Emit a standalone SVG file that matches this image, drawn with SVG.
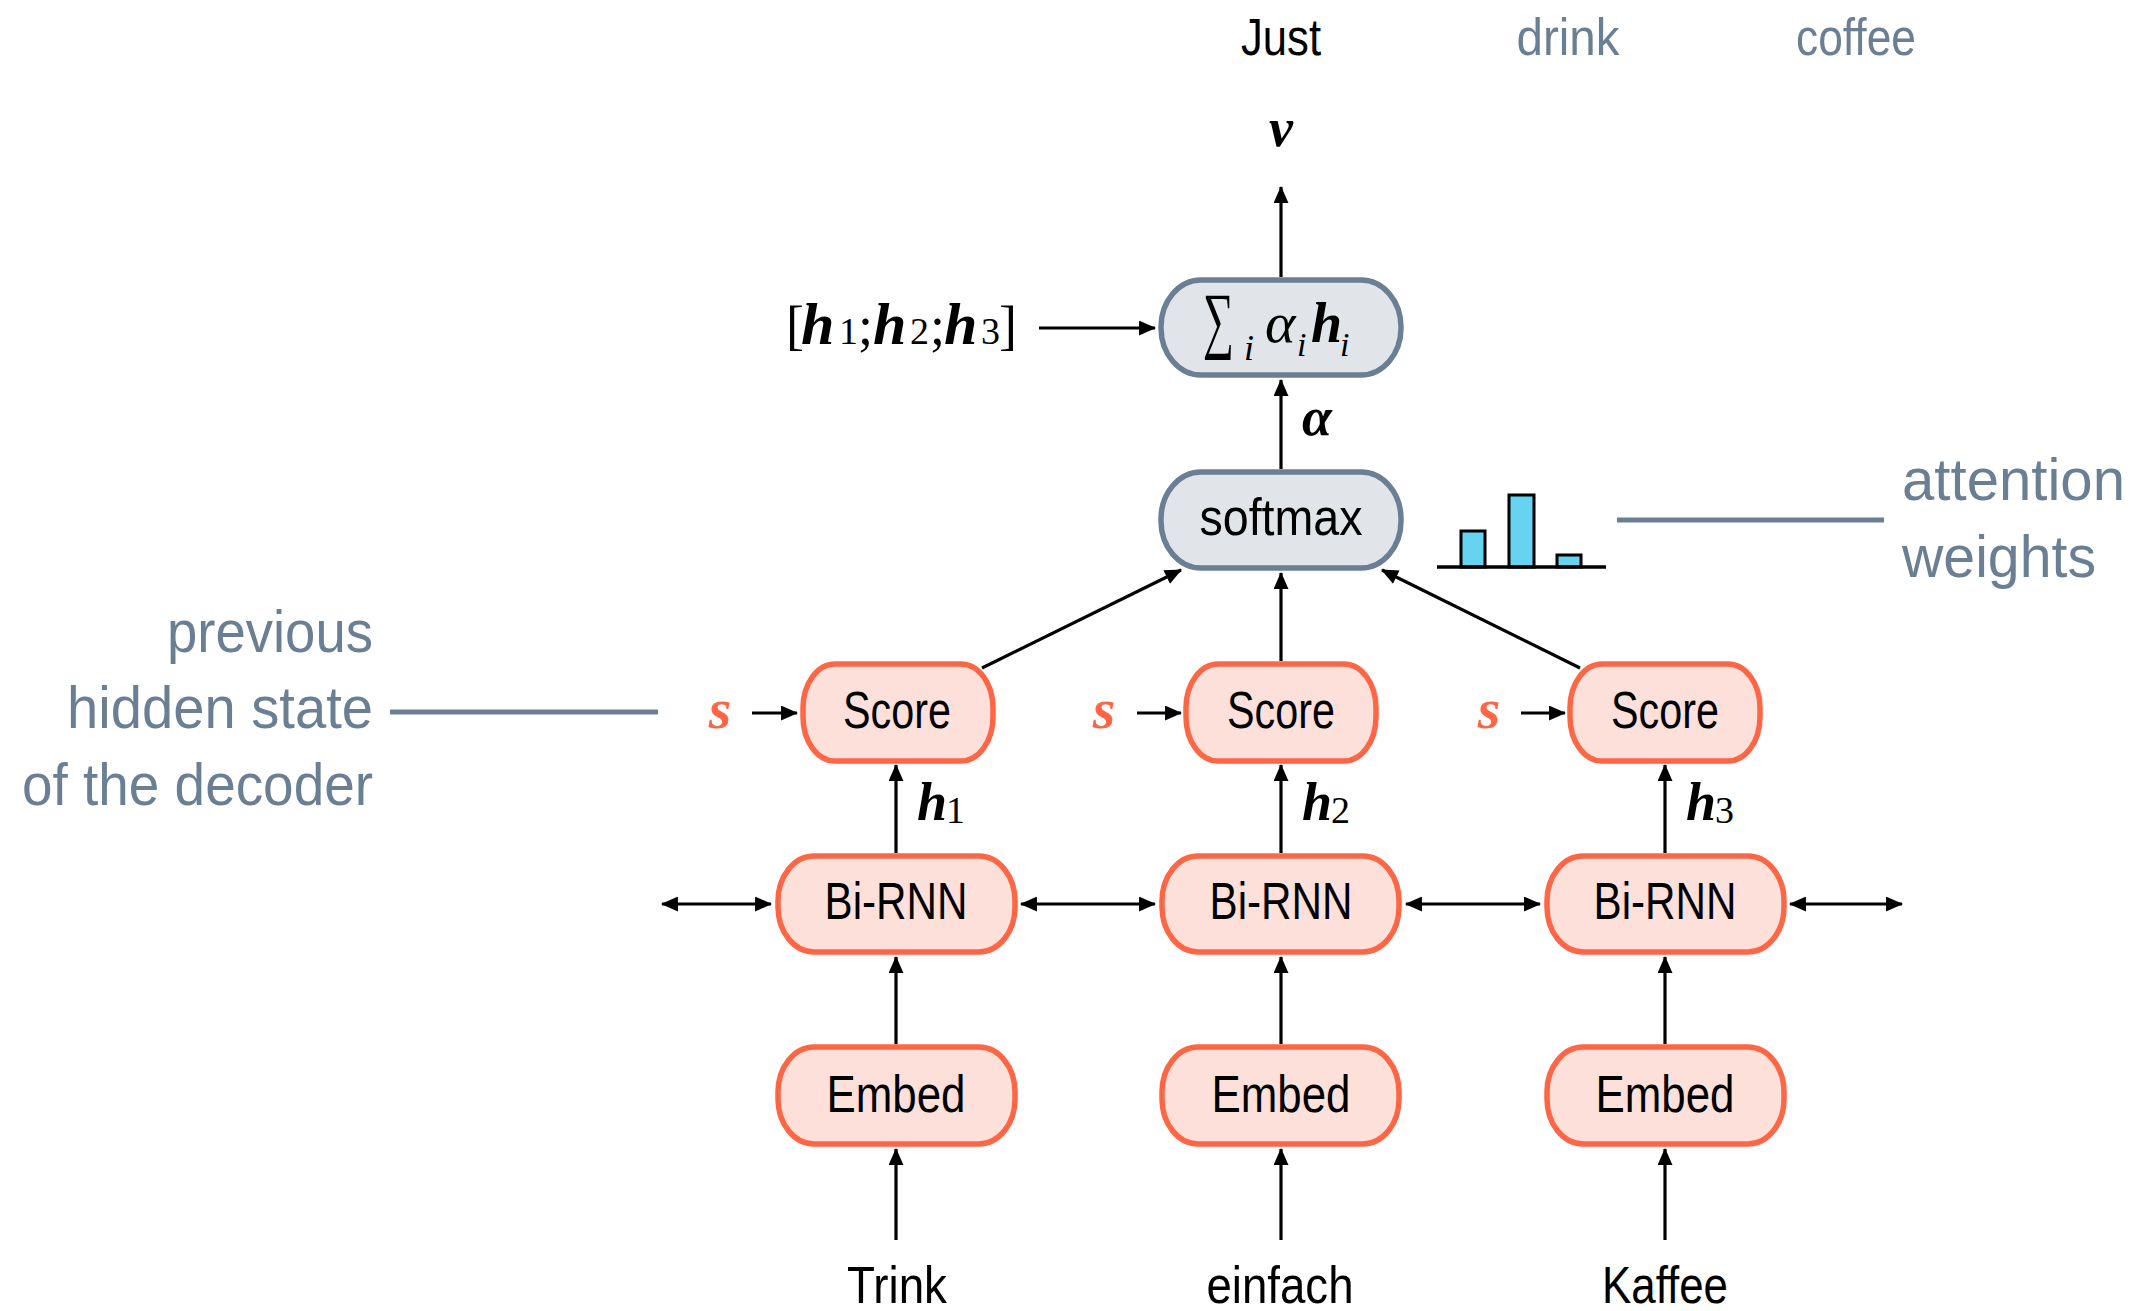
<svg xmlns="http://www.w3.org/2000/svg" width="2136" height="1311" viewBox="0 0 2136 1311">
  <style>
    .enc rect { fill: #fee0da; stroke: #ff6645; stroke-width: 5.5; }
    .att rect { fill: #e1e5ea; stroke: #6b7f94; stroke-width: 5.5; }
    .lbl { font-family: "Liberation Sans", Arial, sans-serif; font-size: 52px; fill: #000; text-anchor: middle; }
    .note { font-family: "Liberation Sans", Arial, sans-serif; font-size: 60px; fill: #6b7f94; }
    .math { font-family: "Liberation Serif", "Times New Roman", serif; fill: #000; }
    .bi { font-weight: bold; font-style: italic; }
    .it { font-style: italic; }
    .sub { font-size: 38px; font-weight: normal; font-style: normal; }
    .svar { font-family: "Liberation Serif", "Times New Roman", serif; font-size: 58px; font-weight: bold; font-style: italic; fill: #ff6645; text-anchor: middle; }
    .conn line { stroke: #000; stroke-width: 3.2; fill: none; }
    .guide { stroke: #6b7f94; stroke-width: 5; }
  </style>
  <defs>
    <marker id="arr" viewBox="0 0 16 14" refX="15" refY="7" markerWidth="17" markerHeight="15" markerUnits="userSpaceOnUse" orient="auto-start-reverse">
      <path d="M0,0 L16,7 L0,14 z" fill="#000"/>
    </marker>
  </defs>

  <!-- output words -->
  <text class="lbl" x="1281" y="55" textLength="80" lengthAdjust="spacingAndGlyphs">Just</text>
  <text class="lbl" x="1568" y="55" textLength="103" lengthAdjust="spacingAndGlyphs" style="fill:#6b7f94">drink</text>
  <text class="lbl" x="1856" y="55" textLength="120" lengthAdjust="spacingAndGlyphs" style="fill:#6b7f94">coffee</text>

  <!-- context vector -->
  <text class="math bi" x="1281" y="146" font-size="54" text-anchor="middle">v</text>
  <text class="math bi" x="1302" y="435" font-size="54">α</text>

  <!-- concatenated encoder states -->
  <text class="math" y="344" font-size="54">
    <tspan x="786">[</tspan><tspan class="bi" x="801" font-size="60">h</tspan><tspan class="sub" x="839">1</tspan><tspan x="858">;</tspan><tspan class="bi" x="873" font-size="60">h</tspan><tspan class="sub" x="910">2</tspan><tspan x="930">;</tspan><tspan class="bi" x="944" font-size="60">h</tspan><tspan class="sub" x="981">3</tspan><tspan x="999">]</tspan>
  </text>

  <!-- connectors -->
  <g class="conn">
    <!-- words into embeddings -->
    <line x1="896" y1="1240" x2="896" y2="1149" marker-end="url(#arr)"/>
    <line x1="1281" y1="1240" x2="1281" y2="1149" marker-end="url(#arr)"/>
    <line x1="1665" y1="1240" x2="1665" y2="1149" marker-end="url(#arr)"/>
    <!-- embeddings into Bi-RNN -->
    <line x1="896" y1="1044" x2="896" y2="957" marker-end="url(#arr)"/>
    <line x1="1281" y1="1044" x2="1281" y2="957" marker-end="url(#arr)"/>
    <line x1="1665" y1="1044" x2="1665" y2="957" marker-end="url(#arr)"/>
    <!-- Bi-RNN recurrences -->
    <line x1="662" y1="904" x2="771" y2="904" marker-start="url(#arr)" marker-end="url(#arr)"/>
    <line x1="1021" y1="904" x2="1155" y2="904" marker-start="url(#arr)" marker-end="url(#arr)"/>
    <line x1="1406" y1="904" x2="1540" y2="904" marker-start="url(#arr)" marker-end="url(#arr)"/>
    <line x1="1790" y1="904" x2="1902" y2="904" marker-start="url(#arr)" marker-end="url(#arr)"/>
    <!-- hidden states into Score -->
    <line x1="896" y1="853" x2="896" y2="765" marker-end="url(#arr)"/>
    <line x1="1281" y1="853" x2="1281" y2="765" marker-end="url(#arr)"/>
    <line x1="1665" y1="853" x2="1665" y2="765" marker-end="url(#arr)"/>
    <!-- decoder state into Score -->
    <line x1="752" y1="713" x2="797" y2="713" marker-end="url(#arr)"/>
    <line x1="1137" y1="713" x2="1181" y2="713" marker-end="url(#arr)"/>
    <line x1="1521" y1="713" x2="1565" y2="713" marker-end="url(#arr)"/>
    <!-- scores into softmax -->
    <line x1="982" y1="668" x2="1181" y2="570" marker-end="url(#arr)"/>
    <line x1="1281" y1="661" x2="1281" y2="573" marker-end="url(#arr)"/>
    <line x1="1580" y1="668" x2="1382" y2="570" marker-end="url(#arr)"/>
    <!-- softmax into weighted sum -->
    <line x1="1281" y1="469" x2="1281" y2="380" marker-end="url(#arr)"/>
    <!-- encoder states into weighted sum -->
    <line x1="1039" y1="328" x2="1155" y2="328" marker-end="url(#arr)"/>
    <!-- weighted sum to context vector -->
    <line x1="1281" y1="277" x2="1281" y2="187" marker-end="url(#arr)"/>
  </g>

  <!-- attention nodes -->
  <g id="wsum" class="att">
    <rect x="1161" y="280" width="240" height="95" rx="40" ry="47"/>
    <text class="math"><tspan x="1203" y="344" font-size="74" textLength="31" lengthAdjust="spacingAndGlyphs">∑</tspan><tspan class="it" x="1244" y="360" font-size="36">i</tspan><tspan class="it" x="1265" y="342" font-size="58">α</tspan><tspan class="it" x="1297" y="356" font-size="34">i</tspan><tspan class="bi" x="1311" y="342" font-size="56">h</tspan><tspan class="it" x="1340" y="356" font-size="34">i</tspan></text>
  </g>
  <g id="softmax" class="att">
    <rect x="1161" y="472" width="240" height="96" rx="40" ry="47"/>
    <text class="lbl" x="1281" y="535" textLength="163" lengthAdjust="spacingAndGlyphs">softmax</text>
  </g>

  <!-- attention weight histogram -->
  <g id="weights">
    <rect x="1461" y="531" width="24" height="36" fill="#66d4f0" stroke="#000" stroke-width="3"/>
    <rect x="1509" y="495" width="25" height="72" fill="#66d4f0" stroke="#000" stroke-width="3"/>
    <rect x="1557" y="555" width="24" height="12" fill="#66d4f0" stroke="#000" stroke-width="3"/>
    <line x1="1437" y1="567" x2="1606" y2="567" stroke="#000" stroke-width="3.5"/>
  </g>
  <g id="note-weights">
    <line class="guide" x1="1617" y1="520" x2="1884" y2="520"/>
    <text class="note" x="1902" y="500" textLength="223" lengthAdjust="spacingAndGlyphs">attention</text>
    <text class="note" x="1902" y="577" textLength="194" lengthAdjust="spacingAndGlyphs">weights</text>
  </g>

  <!-- decoder state annotation -->
  <g id="note-state">
    <text class="note" x="373" y="652" text-anchor="end" textLength="206" lengthAdjust="spacingAndGlyphs">previous</text>
    <text class="note" x="373" y="728" text-anchor="end" textLength="306" lengthAdjust="spacingAndGlyphs">hidden state</text>
    <text class="note" x="373" y="805" text-anchor="end" textLength="351" lengthAdjust="spacingAndGlyphs">of the decoder</text>
    <line class="guide" x1="390" y1="712" x2="658" y2="712"/>
  </g>

  <!-- decoder state inputs -->
  <text class="svar" x="720" y="728">s</text>
  <text class="svar" x="1104" y="728">s</text>
  <text class="svar" x="1489" y="728">s</text>

  <!-- Score nodes -->
  <g id="score1" class="enc">
    <rect x="803" y="664" width="190" height="97" rx="32" ry="44"/>
    <text class="lbl" x="897" y="728" textLength="108" lengthAdjust="spacingAndGlyphs">Score</text>
  </g>
  <g id="score2" class="enc">
    <rect x="1186" y="664" width="190" height="97" rx="32" ry="44"/>
    <text class="lbl" x="1281" y="728" textLength="108" lengthAdjust="spacingAndGlyphs">Score</text>
  </g>
  <g id="score3" class="enc">
    <rect x="1570" y="664" width="190" height="97" rx="32" ry="44"/>
    <text class="lbl" x="1665" y="728" textLength="108" lengthAdjust="spacingAndGlyphs">Score</text>
  </g>

  <!-- encoder hidden state labels -->
  <text class="math" y="820" font-size="54"><tspan class="bi" x="917">h</tspan><tspan class="sub" x="946" dy="3">1</tspan></text>
  <text class="math" y="820" font-size="54"><tspan class="bi" x="1302">h</tspan><tspan class="sub" x="1331" dy="3">2</tspan></text>
  <text class="math" y="820" font-size="54"><tspan class="bi" x="1686">h</tspan><tspan class="sub" x="1715" dy="3">3</tspan></text>

  <!-- Bi-RNN nodes -->
  <g id="birnn1" class="enc">
    <rect x="778" y="856" width="237" height="96" rx="36" ry="45"/>
    <text class="lbl" x="896" y="919" textLength="143" lengthAdjust="spacingAndGlyphs">Bi-RNN</text>
  </g>
  <g id="birnn2" class="enc">
    <rect x="1162" y="856" width="237" height="96" rx="36" ry="45"/>
    <text class="lbl" x="1281" y="919" textLength="143" lengthAdjust="spacingAndGlyphs">Bi-RNN</text>
  </g>
  <g id="birnn3" class="enc">
    <rect x="1547" y="856" width="237" height="96" rx="36" ry="45"/>
    <text class="lbl" x="1665" y="919" textLength="143" lengthAdjust="spacingAndGlyphs">Bi-RNN</text>
  </g>

  <!-- Embed nodes -->
  <g id="embed1" class="enc">
    <rect x="778" y="1047" width="237" height="97" rx="36" ry="45"/>
    <text class="lbl" x="896" y="1112" textLength="139" lengthAdjust="spacingAndGlyphs">Embed</text>
  </g>
  <g id="embed2" class="enc">
    <rect x="1162" y="1047" width="237" height="97" rx="36" ry="45"/>
    <text class="lbl" x="1281" y="1112" textLength="139" lengthAdjust="spacingAndGlyphs">Embed</text>
  </g>
  <g id="embed3" class="enc">
    <rect x="1547" y="1047" width="237" height="97" rx="36" ry="45"/>
    <text class="lbl" x="1665" y="1112" textLength="139" lengthAdjust="spacingAndGlyphs">Embed</text>
  </g>

  <!-- source words -->
  <text class="lbl" x="897" y="1303" textLength="100" lengthAdjust="spacingAndGlyphs">Trink</text>
  <text class="lbl" x="1280" y="1303" textLength="147" lengthAdjust="spacingAndGlyphs">einfach</text>
  <text class="lbl" x="1665" y="1303" textLength="126" lengthAdjust="spacingAndGlyphs">Kaffee</text>
</svg>
